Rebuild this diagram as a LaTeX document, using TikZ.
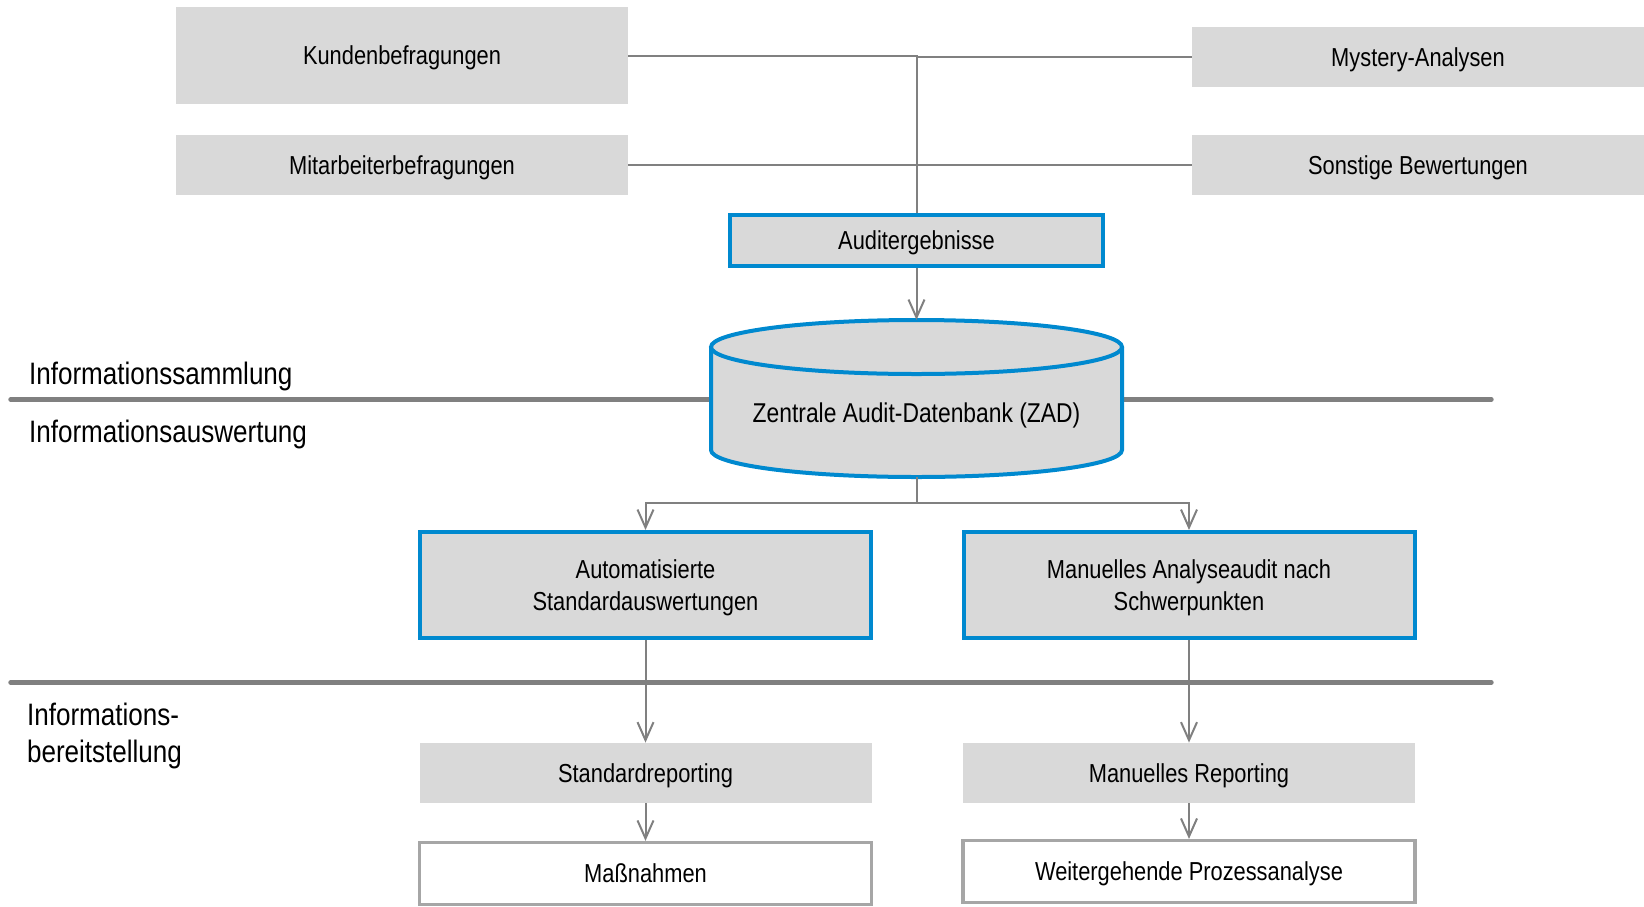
\documentclass[tikz,border=0pt]{standalone}
\usepackage{fontspec}
\setmainfont{Liberation Sans}[FakeStretch=0.84]
\usepackage{tikz}
\usetikzlibrary{arrows.meta}

\definecolor{boxgray}{RGB}{217,217,217}
\definecolor{linegray}{RGB}{128,128,128}
\definecolor{framegray}{RGB}{166,166,166}
\definecolor{zadblue}{RGB}{0,137,207}

\begin{document}
\begin{tikzpicture}[x=0.5pt, y=-0.5pt]
    % Styles
    \tikzstyle{source} = [rectangle, fill=boxgray, draw=none, minimum width=226pt, minimum height=30pt, align=center, text depth=0pt, font=\fontsize{13}{15.7}\selectfont]
    \tikzstyle{bluebox} = [rectangle, fill=boxgray, draw=zadblue, line width=2pt, align=center, text depth=0pt, font=\fontsize{13}{15.7}\selectfont]
    \tikzstyle{outbox} = [rectangle, fill=white, draw=framegray, line width=1.6pt, minimum width=226pt, minimum height=31pt, align=center, text depth=0pt, font=\fontsize{13}{15.7}\selectfont]
    \tikzstyle{phase} = [anchor=west, align=left, font=\fontsize{15.5}{18.9}\selectfont]
    \tikzstyle{arrow} = [-{Straight Barb[length=9pt, width=8pt]}, linegray, line width=1pt]
    \tikzstyle{link} = [linegray, line width=1pt]
    \tikzstyle{divider} = [linegray, line width=2.2pt, line cap=round]

    \useasboundingbox (0,0) rectangle (1644,906);

    % Phase dividers and labels
    \draw[divider] (10.5,399.5) -- (1491.5,399.5);
    \draw[divider] (10.5,682.5) -- (1491.5,682.5);
    \node[phase] (P1) at (22,376) {Informationssammlung};
    \node[phase] (P2) at (22,434) {Informationsauswertung};
    \node[phase] (P3) at (20,736) {Informations-\\bereitstellung};

    % Sources
    \node[source, minimum height=48.5pt] (kunden) at (402,55.5) {Kundenbefragungen};
    \node[source] (mitarb) at (402,165) {Mitarbeiterbefragungen};
    \node[source] (mystery) at (1418,57) {Mystery-Analysen};
    \node[source] (sonstige) at (1418,165) {Sonstige Bewertungen};
    \node[bluebox, minimum width=186.5pt, minimum height=25.5pt] (aud) at (916.5,240.5) {Auditergebnisse};

    % Database
    \coordinate (zadtop) at (916.5,320);
    \coordinate (zadbot) at (916.5,477);
    \fill[boxgray] (711,347) -- (711,450) arc[start angle=180, end angle=360, x radius=205.5, y radius=-27]
        -- (1122,347) -- cycle;
    \draw[zadblue, line width=2pt] (711,347) -- (711,450) arc[start angle=180, end angle=360, x radius=205.5, y radius=-27] -- (1122,347);
    \draw[zadblue, fill=boxgray, line width=2pt] (916.5,347) ellipse[x radius=205.5, y radius=27];
    \node[text depth=0pt, font=\fontsize{13.6}{15.7}\selectfont] (zad) at (916.5,413) {Zentrale Audit-Datenbank (ZAD)};

    % Evaluation
    \node[bluebox, minimum width=225.5pt, minimum height=53pt] (auto) at (645.5,585) {Automatisierte\\Standardauswertungen};
    \node[bluebox, minimum width=225.5pt, minimum height=53pt] (manuell) at (1189,585) {Manuelles Analyseaudit nach\\Schwerpunkten};

    % Reporting
    \node[source] (stdrep) at (645.5,773) {Standardreporting};
    \node[source] (manrep) at (1189,773) {Manuelles Reporting};
    \node[outbox] (massn) at (645.5,873.5) {Maßnahmen};
    \node[outbox] (prozess) at (1189,871.5) {Weitergehende Prozessanalyse};

    % Connectors
    \draw[link] (kunden.east) -| (aud.north);
    \draw[link] (mystery.west) -- (mystery.west -| aud.north);
    \draw[link] (mitarb.east) -- (mitarb.east -| aud.north);
    \draw[link] (sonstige.west) -- (sonstige.west -| aud.north);
    \draw[arrow] (aud.south) -- (zadtop);
    \draw[arrow] (zadbot) -- ++(0,26) -| (auto.north);
    \draw[arrow] (zadbot) -- ++(0,26) -| (manuell.north);
    \draw[arrow] (auto.south) -- (stdrep.north);
    \draw[arrow] (manuell.south) -- (manrep.north);
    \draw[arrow] (stdrep.south) -- (massn.north);
    \draw[arrow] (manrep.south) -- (prozess.north);
\end{tikzpicture}
\end{document}
